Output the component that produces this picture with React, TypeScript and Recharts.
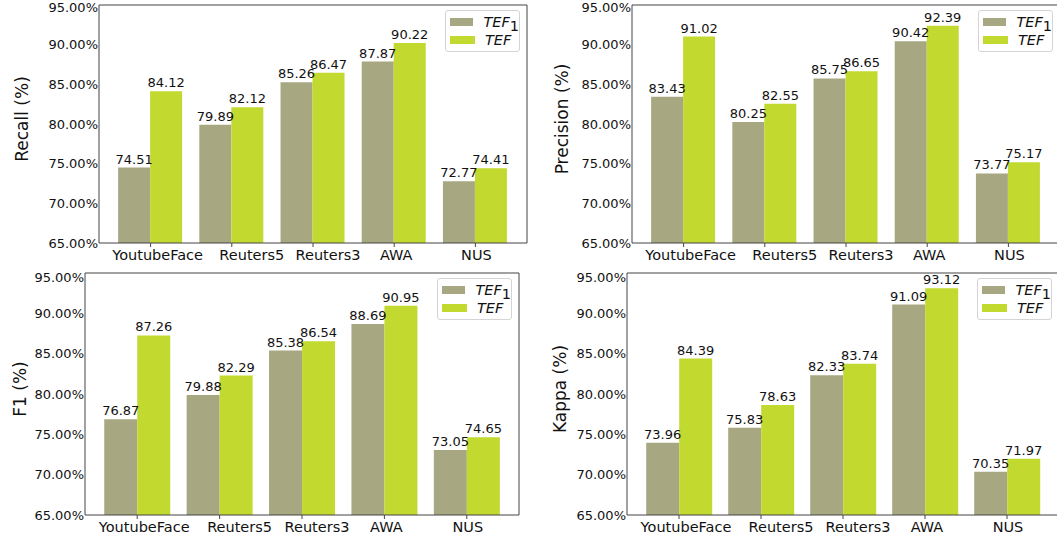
import React from "react";
import { BarChart, Bar, XAxis, YAxis, Legend, LabelList, CartesianGrid } from "recharts";

const categories = ["YoutubeFace", "Reuters5", "Reuters3", "AWA", "NUS"];
const yTicks = [65, 70, 75, 80, 85, 90, 95];

const recallTef1 = [74.51, 79.89, 85.26, 87.87, 72.77];
const recallTef = [84.12, 82.12, 86.47, 90.22, 74.41];
const precisionTef1 = [83.43, 80.25, 85.75, 90.42, 73.77];
const precisionTef = [91.02, 82.55, 86.65, 92.39, 75.17];
const f1Tef1 = [76.87, 79.88, 85.38, 88.69, 73.05];
const f1Tef = [87.26, 82.29, 86.54, 90.95, 74.65];
const kappaTef1 = [73.96, 75.83, 82.33, 91.09, 70.35];
const kappaTef = [84.39, 78.63, 83.74, 93.12, 71.97];

const TEF1_COLOR = "#a7a882";
const TEF_COLOR = "#c2d92f";
const FONT = "'DejaVu Sans', sans-serif";
const AXIS = "#444";
// category labels in the original sit a little right of their ticks
const LABEL_SHIFT = [7, 20, 15, 2, 1];

function CategoryTick(props: any) {
  const { x, y, payload, index } = props;
  return (
    <text
      x={x + (LABEL_SHIFT[index] ?? 0)}
      y={y}
      dy="0.71em"
      textAnchor="middle"
      fontSize={14.5}
      fill="#111"
      fontFamily={FONT}
    >
      {payload.value}
    </text>
  );
}

function LegendBox() {
  const row = (color: string, sub: boolean) => (
    <div style={{ display: "flex", alignItems: "center", height: 18 }}>
      <div style={{ width: 25, height: 8, background: color, marginRight: 10 }} />
      <span style={{ fontStyle: "italic" }}>TEF</span>
      {sub && <span style={{ position: "relative", top: 4 }}>1</span>}
    </div>
  );
  return (
    <div
      style={{
        border: "1px solid #d4d4d4",
        borderRadius: 3,
        background: "#fff",
        padding: "2px 0px 2px 4px",
        width: 69,
        fontFamily: FONT,
        fontSize: 14.5,
        color: "#111",
        lineHeight: "18px",
      }}
    >
      {row(TEF1_COLOR, true)}
      {row(TEF_COLOR, false)}
    </div>
  );
}

interface PanelProps {
  label: string;
  tef1: number[];
  tef: number[];
  left: number;
  top: number;
  width: number;
  height: number;
  marginTop: number;
  marginRight: number;
  yWidth: number;
  xHeight: number;
  labelOffset: number;
}

function Panel(p: PanelProps) {
  const data = categories.map((c, i) => ({ name: c, tef1: p.tef1[i], tef: p.tef[i] }));
  return (
    <div style={{ position: "absolute", left: p.left, top: p.top }}>
      <BarChart
        width={p.width}
        height={p.height}
        data={data}
        margin={{ top: p.marginTop, right: p.marginRight, bottom: 0, left: 0 }}
        barCategoryGap="10%"
        barGap={0}
      >
        {/* top and right spines */}
        <CartesianGrid
          stroke={AXIS}
          horizontalCoordinatesGenerator={({ offset }: any) => [offset.top]}
          verticalCoordinatesGenerator={({ offset }: any) => [offset.left + offset.width]}
        />
        <XAxis
          dataKey="name"
          interval={0}
          height={p.xHeight}
          padding={{ left: 11, right: 11 }}
          tickSize={4}
          tickMargin={3}
          stroke={AXIS}
          tick={<CategoryTick />}
        />
        <YAxis
          domain={[65, 95]}
          ticks={yTicks}
          allowDataOverflow
          width={p.yWidth}
          tickLine={false}
          tickSize={0}
          tickMargin={1}
          stroke={AXIS}
          tickFormatter={(v: number) => v.toFixed(2) + "%"}
          tick={{ fontSize: 13, fill: "#111", fontFamily: FONT }}
          label={{
            value: p.label,
            angle: -90,
            position: "insideLeft",
            offset: p.labelOffset,
            dy: -5,
            style: { textAnchor: "middle", fontSize: 17, fill: "#111", fontFamily: FONT },
          }}
        />
        <Legend
          layout="vertical"
          align="center"
          verticalAlign="middle"
          content={() => <LegendBox />}
          wrapperStyle={{ top: p.marginTop + 5, right: p.marginRight + 7, left: "auto", width: "auto", height: "auto" }}
        />
        <Bar dataKey="tef1" fill={TEF1_COLOR} isAnimationActive={false}>
          <LabelList
            dataKey="tef1"
            position="top"
            offset={4}
            formatter={(v: number) => v.toFixed(2)}
            style={{ fontSize: 13, fill: "#111", fontFamily: FONT }}
          />
        </Bar>
        <Bar dataKey="tef" fill={TEF_COLOR} isAnimationActive={false}>
          <LabelList
            dataKey="tef"
            position="top"
            offset={4}
            formatter={(v: number) => v.toFixed(2)}
            style={{ fontSize: 13, fill: "#111", fontFamily: FONT }}
          />
        </Bar>
      </BarChart>
    </div>
  );
}

export default function App() {
  return (
    <div
      style={{
        position: "absolute",
        left: 0,
        top: 0,
        width: 1057,
        height: 539,
        overflow: "hidden",
        background: "#fff",
        fontFamily: FONT,
      }}
    >
      <Panel label="Recall (%)" tef1={recallTef1} tef={recallTef} left={0} top={0} width={540} height={270}
        marginTop={5} marginRight={13} yWidth={99} xHeight={27} labelOffset={22} />
      <Panel label="Precision (%)" tef1={precisionTef1} tef={precisionTef} left={540} top={0} width={525} height={270}
        marginTop={5} marginRight={5} yWidth={92} xHeight={27} labelOffset={22} />
      <Panel label="F1 (%)" tef1={f1Tef1} tef={f1Tef} left={0} top={270} width={540} height={269}
        marginTop={3} marginRight={21} yWidth={85} xHeight={24} labelOffset={20} />
      <Panel label="Kappa (%)" tef1={kappaTef1} tef={kappaTef} left={540} top={270} width={525} height={269}
        marginTop={3} marginRight={6} yWidth={87} xHeight={24} labelOffset={20} />
    </div>
  );
}
